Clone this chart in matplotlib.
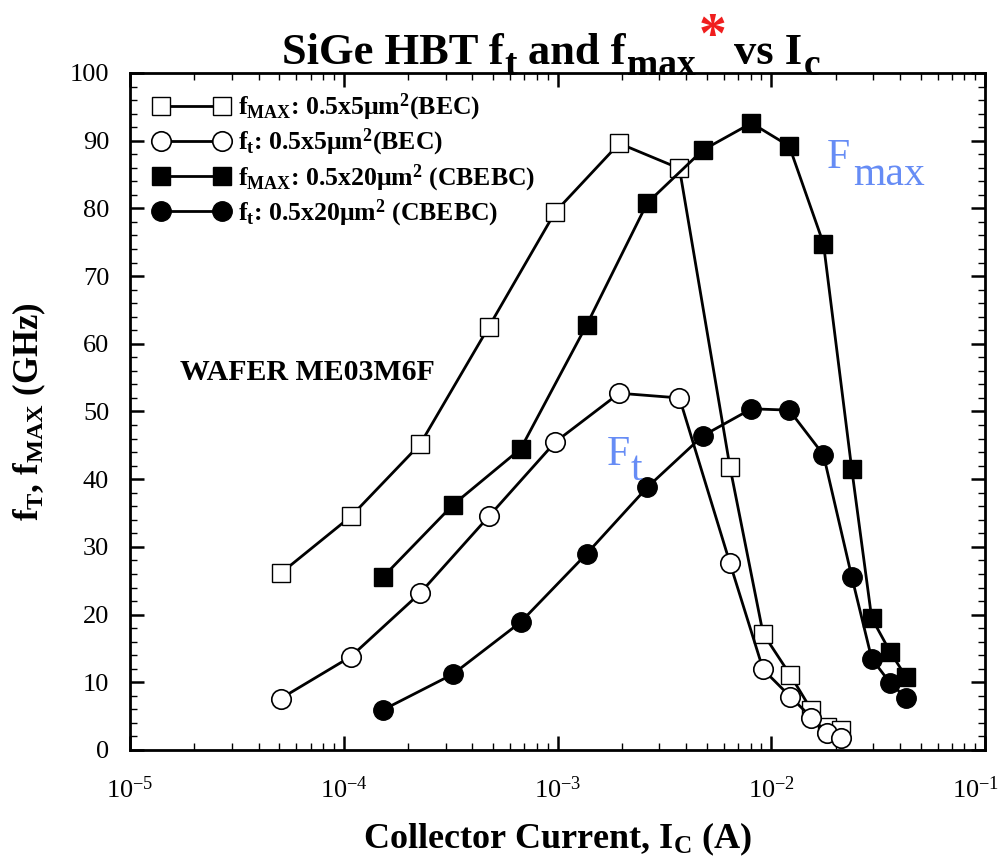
import numpy as np
import matplotlib
matplotlib.use("Agg")
import matplotlib.pyplot as plt
from matplotlib.ticker import MultipleLocator, LogLocator, NullFormatter
from matplotlib.transforms import ScaledTranslation

plt.rcParams['font.family'] = ['Liberation Serif', 'DejaVu Serif']
plt.rcParams['mathtext.fontset'] = 'custom'
plt.rcParams['mathtext.rm'] = 'Liberation Serif'
plt.rcParams['mathtext.bf'] = 'Liberation Serif:bold'
plt.rcParams['mathtext.it'] = 'Liberation Serif:italic'

# datos
ic_bec = [5.07e-5, 1.08e-4, 2.28e-4, 4.77e-4, 9.77e-4, 1.945e-3, 3.72e-3,
          6.41e-3, 9.16e-3, 1.226e-2, 1.542e-2, 1.83e-2, 2.12e-2]
fmax_bec = [26.1, 34.5, 45.2, 62.5, 79.5, 89.6, 85.9, 41.8, 17.2, 11.1, 5.9, 3.4, 3.0]
ft_bec = [7.6, 13.8, 23.2, 34.5, 45.5, 52.7, 52.0, 27.6, 11.9, 7.9, 4.8, 2.5, 1.7]

ic_cbebc = [1.52e-4, 3.24e-4, 6.73e-4, 1.37e-3, 2.63e-3, 4.78e-3, 8.08e-3,
            1.214e-2, 1.755e-2, 2.38e-2, 2.95e-2, 3.6e-2, 4.27e-2]
fmax_cbebc = [25.5, 36.2, 44.5, 62.8, 80.8, 88.6, 92.6, 89.2, 74.8, 41.5, 19.5, 14.5, 10.8]
ft_cbebc = [5.9, 11.2, 18.9, 29.0, 38.8, 46.4, 50.4, 50.2, 43.6, 25.6, 13.5, 9.9, 7.7]

etiquetas = [r'$\mathbf{f_{MAX}}$: 0.5x5μm$^\mathbf{2}$(BEC)',
             r'$\mathbf{f_{t}}$: 0.5x5μm$^\mathbf{2}$(BEC)',
             r'$\mathbf{f_{MAX}}$: 0.5x20μm$^\mathbf{2}$ (CBEBC)',
             r'$\mathbf{f_{t}}$: 0.5x20μm$^\mathbf{2}$ (CBEBC)']
xticks = [1e-5, 1e-4, 1e-3, 1e-2, 1e-1]
xticklabels = [r'$10^{-5}$', r'$10^{-4}$', r'$10^{-3}$', r'$10^{-2}$', r'$10^{-1}$']

azul = '#668cf5'
W, H = 999, 867

fig = plt.figure(figsize=(W / 100, H / 100), dpi=100)
ax = fig.add_axes([130 / W, 117 / H, 855 / W, 677 / H])

ax.plot(ic_bec, fmax_bec, '-s', color='black', lw=2, ms=13, mfc='white', mew=1.0, label=etiquetas[0])
ax.plot(ic_bec, ft_bec, '-o', color='black', lw=2, ms=14, mfc='white', mew=1.2, label=etiquetas[1])
ax.plot(ic_cbebc, fmax_cbebc, '-s', color='black', lw=2, ms=13, mfc='black', mew=1.0, label=etiquetas[2])
ax.plot(ic_cbebc, ft_cbebc, '-o', color='black', lw=2, ms=14, mfc='black', mew=1.0, label=etiquetas[3])

ax.set_xscale('log')
ax.set_xlim(1e-5, 1e-1)
ax.set_ylim(0, 100)
ax.yaxis.set_major_locator(MultipleLocator(10))
ax.yaxis.set_minor_locator(MultipleLocator(2))
ax.set_xticks(xticks)
ax.set_xticklabels(xticklabels)
ax.xaxis.set_minor_locator(LogLocator(base=10, subs=np.arange(2, 10), numticks=10))
ax.xaxis.set_minor_formatter(NullFormatter())

for s in ax.spines.values():
    s.set_linewidth(2)
ax.tick_params(which='both', direction='in', top=True, right=True, labelsize=19)
ax.tick_params(which='major', length=10, width=1.8)
ax.tick_params(which='minor', length=5, width=1.0)
ax.tick_params(axis='x', which='major', pad=19)
ax.tick_params(axis='y', which='major', pad=15)

# la ultima etiqueta se corre un poco a la izquierda para que no se corte
ult = ax.xaxis.get_major_ticks()[4].label1
ult.set_transform(ult.get_transform() + ScaledTranslation(-0.09, 0, fig.dpi_scale_trans))

ax.set_xlabel(r'Collector Current, $\mathbf{I_C}$ (A)', fontsize=26, fontweight='bold')
ax.set_ylabel(r'$\mathbf{f_T}$, $\mathbf{f_{MAX}}$ (GHz)', fontsize=25, fontweight='bold')
ax.xaxis.set_label_coords(0.5, -0.104)
ax.yaxis.set_label_coords(-0.096, 0.5)

leg = ax.legend(loc='upper left', bbox_to_anchor=(0.027, 0.972), numpoints=2, frameon=False,
                prop={'weight': 'bold', 'size': 18.5}, handlelength=2.97, handletextpad=0.32,
                labelspacing=0.15, borderpad=0, borderaxespad=0)

ax.text(1.71e-5, 54.6, 'WAFER ME03M6F', fontsize=21.5, fontweight='bold', va='baseline')

# F_max y F_t con subindice grande, como en la figura
ax.text(0.01824, 86, 'F', fontsize=30, color=azul, va='baseline')
ax.annotate('max', xy=(0.01824, 86), xytext=(26, -17), textcoords='offset pixels',
            fontsize=30, color=azul, va='baseline')
ax.text(1.705e-3, 42.1, 'F', fontsize=30, color=azul, va='baseline')
ax.annotate('t', xy=(1.705e-3, 42.1), xytext=(24, -15), textcoords='offset pixels',
            fontsize=30, color=azul, va='baseline')

# titulo por partes: (texto, bajada en px, espacio antes en px, tamano, color)
partes = [('SiGe HBT f', 0, 0, 32, 'black'),
          ('t', 11, 1, 27, 'black'),
          ('and f', 0, 11, 32, 'black'),
          ('max', 11, 1, 27, 'black'),
          ('*', -12, 3, 40, '#f01e1e'),
          ('vs I', 0, 8, 32, 'black'),
          ('c', 11, 1, 27, 'black')]
base = 64
r = fig.canvas.get_renderer()
textos = []
anchos = []
for txt, dy, gap, size, col in partes:
    t = fig.text(0, (H - base - dy) / H, txt, fontsize=size, fontweight='bold',
                 color=col, va='baseline')
    textos.append(t)
    anchos.append(gap + t.get_window_extent(r).width)
x = 551 - sum(anchos) / 2
for t, (txt, dy, gap, size, col), a in zip(textos, partes, anchos):
    t.set_x((x + gap) / W)
    x += a

fig.savefig('out.png', dpi=100)
